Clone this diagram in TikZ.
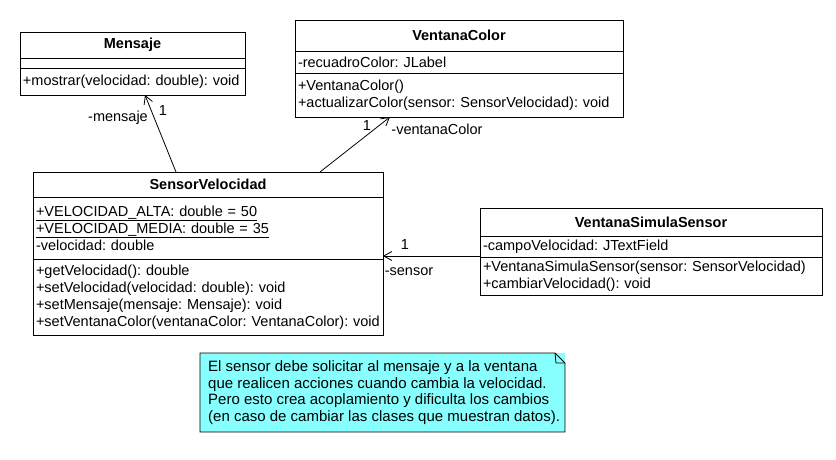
\documentclass[tikz,border=0pt]{standalone}
\usepackage{fontspec}
\setmainfont{Liberation Sans}
\usetikzlibrary{arrows.meta,calc,positioning}
\definecolor{notecyan}{RGB}{136,255,255}
\frenchspacing
\begin{document}
\begin{tikzpicture}
[   x=1pt, y=-1pt,
    font=\fontsize{14.5}{17}\selectfont,
    part/.style={draw=black,line width=0.8pt,anchor=north west,inner xsep=3pt,inner ysep=0pt,outer sep=0pt,
        minimum width=#1,text width=#1-6pt,align=left},
    title/.style={part=#1,align=center,font=\fontsize{14.5}{17}\selectfont\bfseries},
    assoc/.style={line width=0.8pt,-{Straight Barb[length=8pt,width=9pt]}},
    role/.style={inner sep=0pt},
]
    \useasboundingbox (0,0) rectangle (836,459);

    % Mensaje
    \node[title=225pt,minimum height=26pt] (msgT) at (20,32) {Mensaje};
    \node[part=225pt,minimum height=10pt,below=0pt of msgT] (msgA) {};
    \node[part=225pt,minimum height=27pt,below=0pt of msgA] (msgO) {+mostrar(velocidad: double): void};

    % VentanaColor
    \node[title=328pt,minimum height=31pt] (vcT) at (295,20) {VentanaColor};
    \node[part=328pt,minimum height=22pt,below=0pt of vcT] (vcA) {-recuadroColor: JLabel};
    \node[part=328pt,minimum height=44pt,below=0pt of vcA] (vcO)
        {+VentanaColor()\\+actualizarColor(sensor: SensorVelocidad): void};

    % SensorVelocidad
    \node[title=350pt,minimum height=25pt] (svT) at (33,172) {SensorVelocidad};
    \node[part=350pt,minimum height=62pt,below=0pt of svT] (svA)
        {\underline{+VELOCIDAD\_ALTA: double = 50}\\
         \underline{+VELOCIDAD\_MEDIA: double = 35}\\
         -velocidad: double};
    \node[part=350pt,minimum height=76pt,below=0pt of svA] (svO)
        {+getVelocidad(): double\\
         +setVelocidad(velocidad: double): void\\
         +setMensaje(mensaje: Mensaje): void\\
         +setVentanaColor(ventanaColor: VentanaColor): void};

    % VentanaSimulaSensor
    \node[title=342pt,minimum height=28pt] (vssT) at (480,208) {VentanaSimulaSensor};
    \node[part=342pt,minimum height=21pt,below=0pt of vssT] (vssA) {-campoVelocidad: JTextField};
    \node[part=342pt,minimum height=38pt,below=0pt of vssA] (vssO)
        {+VentanaSimulaSensor(sensor: SensorVelocidad)\\+cambiarVelocidad(): void};

    % associations
    \draw[assoc] ($(svT.north west)+(143,0)$) -- ($(msgO.south west)+(125,0)$);
    \node[role] (rMsg) at (118,118) {-mensaje};
    \node[role] (nMsg) at (163,111) {1};

    \draw[assoc] ($(svT.north west)+(287,0)$) -- ($(vcO.south west)+(95,0)$);
    \node[role] (nVc) at (367,126) {1};
    \node[role] (rVc) at (437,129) {-ventanaColor};

    \draw[assoc] ($(vssA.south west)+(0,-1)$) -- ($(vssA.south west -| svA.east)+(0,-1)$);
    \node[role] (nSv) at (405,245) {1};
    \node[role] (rSv) at (409,272) {-sensor};

    % note
    \node[fill=notecyan,minimum width=365pt,minimum height=79pt,anchor=north west,inner sep=0pt,outer sep=0pt] (note) at (200,353) {};
    \draw[line width=0.8pt] (note.north west) -- ($(note.north east)+(-10,0)$) -- ($(note.north east)+(0,10)$)
        -- (note.south east) -- (note.south west) -- cycle;
    \draw[line width=0.8pt] ($(note.north east)+(-10,0)$) -- ($(note.north east)+(-9,10)$) -- ($(note.north east)+(0,10)$);
    \node[anchor=west,align=left,inner sep=0pt,font=\fontsize{15}{16.5}\selectfont] (noteText) at ($(note.west)+(8,0)$)
        {El sensor debe solicitar al mensaje y a la ventana\\
         que realicen acciones cuando cambia la velocidad.\\
         Pero esto crea acoplamiento y dificulta los cambios\\
         (en caso de cambiar las clases que muestran datos).};
\end{tikzpicture}
\end{document}
